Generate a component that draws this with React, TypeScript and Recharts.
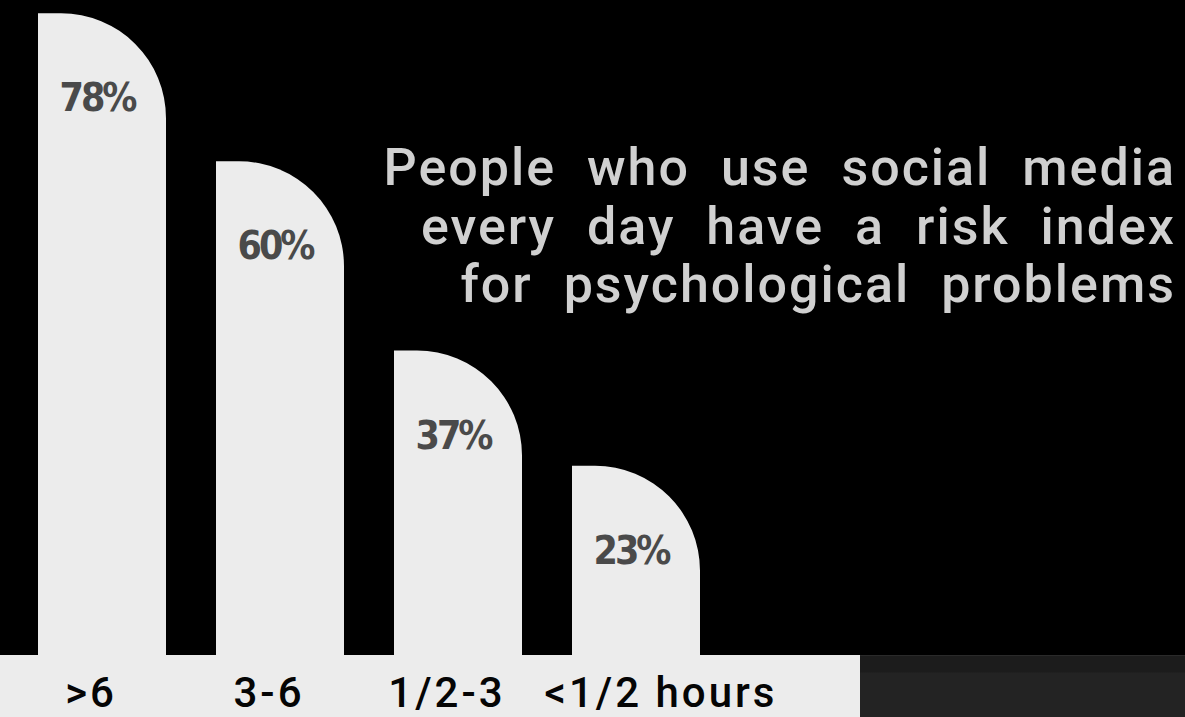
import { Bar, BarChart, LabelList, XAxis, YAxis } from "recharts";

const categories = [">6", "3-6", "1/2-3", "<1/2 hours"];
const riskIndex = [78, 60, 37, 23];
const titleLines = [
  "People who use social media",
  "every day have a risk index",
  "for psychological problems",
];

const data = categories.map((name, i) => ({ name, risk: riskIndex[i] }));

const BAR_FILL = "#ececec";
const CORNER = 105;

// bar with a big rounded top-right corner, left side square
function RoundedBar(props: any) {
  const { x, y, width, height } = props;
  const r = Math.min(CORNER, width, height);
  const d = `M${x},${y + height} L${x},${y} L${x + width - r},${y} A${r},${r} 0 0 1 ${x + width},${y + r} L${x + width},${y + height} Z`;
  return <path d={d} fill={BAR_FILL} />;
}

function ValueLabel(props: any) {
  const { x, y, value } = props;
  return (
    <text
      x={x + 59}
      y={y + 98}
      textAnchor="middle"
      fill="#4a4a4a"
      fontFamily="'DejaVu Sans Condensed', 'DejaVu Sans', sans-serif"
      fontWeight="bold"
      fontSize={39}
      letterSpacing={-3}
    >
      {value}%
    </text>
  );
}

function HourTick(props: any) {
  const { x, y, payload, index } = props;
  const last = index === categories.length - 1;
  return (
    <text
      x={x + (last ? 25 : -11)}
      y={y + 52}
      textAnchor="middle"
      fill="#050505"
      fontFamily="Roboto, sans-serif"
      fontWeight={500}
      fontSize={42}
      letterSpacing={3}
    >
      {payload.value}
    </text>
  );
}

export default function App() {
  return (
    <div
      style={{
        position: "fixed",
        left: 0,
        top: 0,
        width: 1185,
        height: 717,
        background: "#000",
        overflow: "hidden",
      }}
    >
      <div
        style={{
          position: "absolute",
          left: 0,
          top: 655,
          width: 860,
          height: 62,
          background: "#ececec",
        }}
      />
      <div
        style={{
          position: "absolute",
          left: 860,
          top: 655,
          width: 325,
          height: 62,
          background:
            "linear-gradient(#2a2a2a 0, #2a2a2a 1px, #1c1c1c 1px, #1c1c1c 17px, #232323 18px)",
        }}
      />
      <svg
        width={1185}
        height={717}
        style={{ position: "absolute", left: 0, top: 0 }}
      >
        {titleLines.map((line, i) => (
          <text
            key={line}
            x={1176}
            y={185 + i * 58.5}
            textAnchor="end"
            fill="#d0d0d0"
            fontFamily="Roboto, sans-serif"
            fontWeight={500}
            fontSize={52}
            letterSpacing={2}
            wordSpacing={16}
          >
            {line}
          </text>
        ))}
      </svg>
      <div style={{ position: "absolute", left: 0, top: 0 }}>
        <BarChart
          width={1185}
          height={717}
          data={data}
          margin={{ top: 0, right: 460, bottom: 0, left: 13 }}
          barSize={128}
        >
          <XAxis
            dataKey="name"
            height={62}
            axisLine={false}
            tickLine={false}
            tickSize={0}
            tickMargin={0}
            interval={0}
            tick={HourTick}
          />
          <YAxis hide domain={[0, 79.6]} />
          <Bar
            dataKey="risk"
            shape={RoundedBar}
            isAnimationActive={false}
          >
            <LabelList dataKey="risk" content={ValueLabel} />
          </Bar>
        </BarChart>
      </div>
    </div>
  );
}
